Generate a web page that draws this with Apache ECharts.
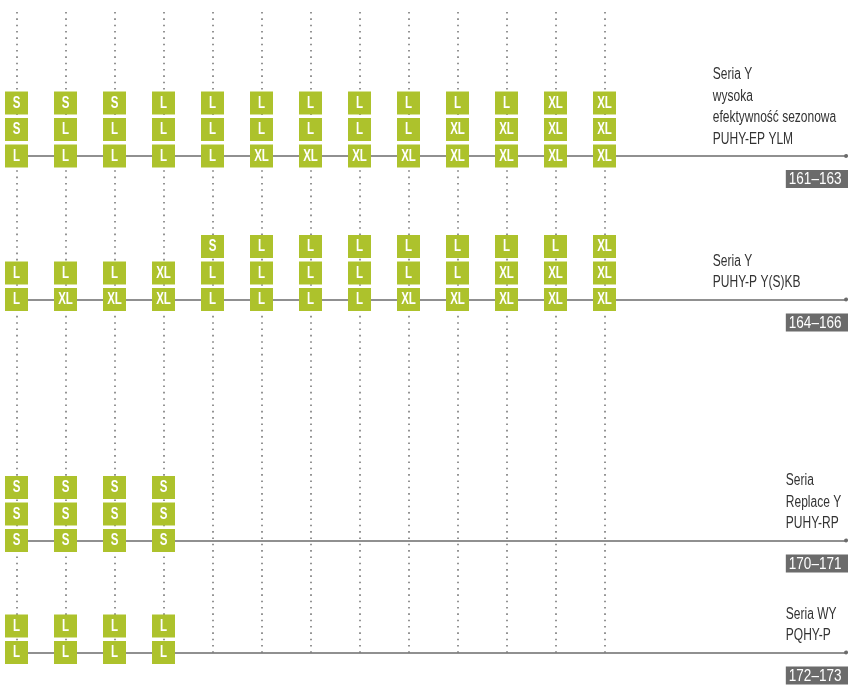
<!DOCTYPE html>
<html>
<head>
<meta charset="utf-8">
<script src="https://cdn.jsdelivr.net/npm/echarts@6/dist/echarts.min.js"></script>
<style>
  html, body { margin: 0; padding: 0; background: #fff; }
  #main { width: 848px; height: 687px; }
</style>
</head>
<body>
<div id="main"></div>
<script>
// sizes per unit column, rows listed top to bottom, '' = no box
var ylmRows = [
  ['S', 'S', 'S', 'L', 'L', 'L', 'L', 'L', 'L', 'L', 'L', 'XL', 'XL'],
  ['S', 'L', 'L', 'L', 'L', 'L', 'L', 'L', 'L', 'XL', 'XL', 'XL', 'XL'],
  ['L', 'L', 'L', 'L', 'L', 'XL', 'XL', 'XL', 'XL', 'XL', 'XL', 'XL', 'XL']
];
var ykbRows = [
  ['', '', '', '', 'S', 'L', 'L', 'L', 'L', 'L', 'L', 'L', 'XL'],
  ['L', 'L', 'L', 'XL', 'L', 'L', 'L', 'L', 'L', 'L', 'XL', 'XL', 'XL'],
  ['L', 'XL', 'XL', 'XL', 'L', 'L', 'L', 'L', 'XL', 'XL', 'XL', 'XL', 'XL']
];
var rpRows = [
  ['S', 'S', 'S', 'S'],
  ['S', 'S', 'S', 'S'],
  ['S', 'S', 'S', 'S']
];
var wyRows = [
  ['L', 'L', 'L', 'L'],
  ['L', 'L', 'L', 'L']
];
var seriesTitles = [
  ['Seria Y', 'wysoka', 'efektywność sezonowa', 'PUHY-EP YLM'],
  ['Seria Y', 'PUHY-P Y(S)KB'],
  ['Seria', 'Replace Y', 'PUHY-RP'],
  ['Seria WY', 'PQHY-P']
];
var pageRanges = ['161–163', '164–166', '170–171', '172–173'];
var columnCount = 13;

// layout (y axis is in pixels from the top, x axis in column units)
var groups = [ylmRows, ykbRows, rpRows, wyRows];
var baseY = [156, 299.5, 540.5, 652.5];
var rowStep = 26.5;
var textX = [14.21, 14.21, 15.7, 15.7];
var badgeX = 15.7;
var xMin = -0.337, xMax = xMin + 848 / 49;
var green = '#adc22c';
var sans = "'Liberation Sans', Arial, sans-serif";

var boxes = [];
groups.forEach(function (rows, g) {
  var n = rows.length;
  rows.forEach(function (row, r) {
    row.forEach(function (size, c) {
      if (size) boxes.push({ value: [c, baseY[g] - (n - 1 - r) * rowStep], size: size });
    });
  });
});

var dotLines = [];
for (var i = 0; i < columnCount; i++) {
  dotLines.push([{ coord: [i, 12] }, { coord: [i, baseY[3]] }]);
}
var hLines = baseY.map(function (y) {
  return [{ coord: [0, y] }, { coord: [xMax - 0.04, y] }];
});

var titleData = seriesTitles.map(function (t, g) {
  return { value: [textX[g], baseY[g]], text: t.join('\n') };
});
var badgeData = pageRanges.map(function (p, g) {
  return { value: [badgeX, baseY[g]], text: p };
});

var myChart = echarts.init(document.getElementById('main'));
var option = {
  animation: false,
  grid: { left: 0, right: 0, top: 0, bottom: 0 },
  xAxis: { type: 'value', min: xMin, max: xMax, show: false },
  yAxis: { type: 'value', min: 0, max: 687, inverse: true, show: false },
  series: [
    {
      type: 'line',
      data: [],
      markLine: {
        silent: true,
        symbol: 'none',
        label: { show: false },
        lineStyle: { color: '#7a7a7a', width: 1.6, type: [1.6, 4.73] },
        data: dotLines
      },
      z: 1
    },
    {
      type: 'line',
      data: [],
      markLine: {
        silent: true,
        symbol: ['none', 'circle'],
        symbolSize: 4,
        label: { show: false },
        lineStyle: { color: '#6b6b6b', width: 1.6, type: 'solid' },
        data: hLines
      },
      z: 2
    },
    {
      // the size boxes
      type: 'custom',
      data: boxes,
      z: 5,
      renderItem: function (params, api) {
        var pt = api.coord([api.value(0), api.value(1)]);
        return {
          type: 'group',
          children: [
            {
              type: 'rect',
              shape: { x: pt[0] - 11.5, y: pt[1] - 11.5, width: 23, height: 23 },
              style: { fill: green }
            },
            {
              type: 'text',
              x: pt[0], y: pt[1] + 0.5,
              scaleX: 0.72,
              style: {
                text: boxes[params.dataIndex].size,
                fill: '#fff',
                font: 'bold 16px ' + sans,
                align: 'center',
                verticalAlign: 'middle'
              }
            }
          ]
        };
      }
    },
    {
      // series names on the right
      type: 'custom',
      data: titleData,
      z: 5,
      renderItem: function (params, api) {
        var pt = api.coord([api.value(0), api.value(1)]);
        return {
          type: 'text',
          x: pt[0], y: pt[1] - 6,
          scaleX: 0.75,
          style: {
            text: titleData[params.dataIndex].text,
            fill: '#333',
            font: '16px ' + sans,
            lineHeight: 21.5,
            align: 'left',
            verticalAlign: 'bottom'
          }
        };
      }
    },
    {
      // page range badges
      type: 'custom',
      data: badgeData,
      z: 5,
      renderItem: function (params, api) {
        var pt = api.coord([api.value(0), api.value(1)]);
        var top = pt[1] + 14;
        return {
          type: 'group',
          children: [
            {
              type: 'rect',
              shape: { x: pt[0], y: top, width: 80, height: 18 },
              style: { fill: '#6b6b6b' }
            },
            {
              type: 'text',
              x: pt[0] + 3, y: top + 9.5,
              scaleX: 0.82,
              style: {
                text: badgeData[params.dataIndex].text,
                fill: '#fff',
                font: '16.5px ' + sans,
                align: 'left',
                verticalAlign: 'middle'
              }
            }
          ]
        };
      }
    }
  ]
};
myChart.setOption(option);
window.addEventListener('resize', function () {
  myChart.resize();
});
</script>
</body>
</html>
